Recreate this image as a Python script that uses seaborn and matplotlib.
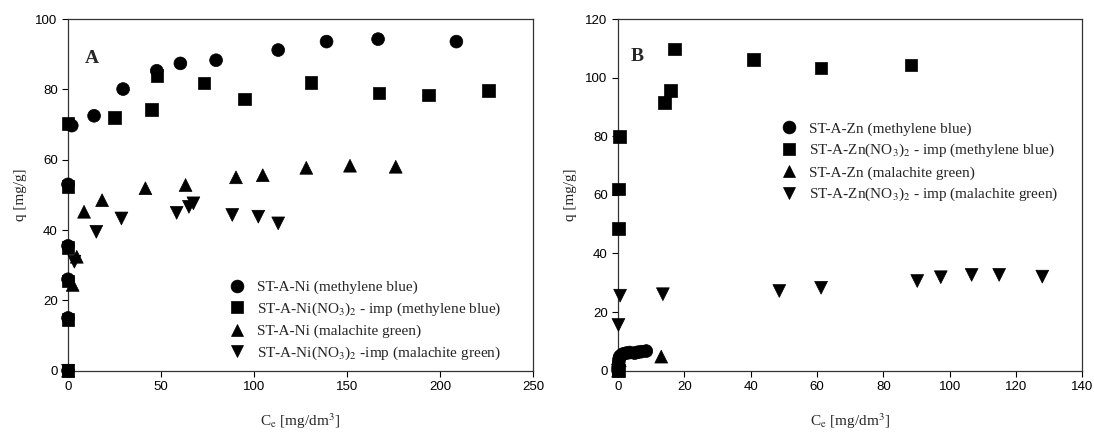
import matplotlib
matplotlib.use("Agg")
import matplotlib.pyplot as plt
import seaborn as sns
import pandas as pd

sns.set_theme(style="ticks")
plt.rcParams['font.family'] = ['Liberation Sans', 'DejaVu Sans']
plt.rcParams['mathtext.fontset'] = 'stix'

# ---------------- Panel A data ----------------
a_labels = ["ST-A-Ni (methylene blue)",
            "ST-A-Ni(NO$_3$)$_2$ - imp (methylene blue)",
            "ST-A-Ni (malachite green)",
            "ST-A-Ni(NO$_3$)$_2$ -imp (malachite green)"]
a_mb_x = [0, 0, 0, 0, 0, 2, 14, 29.6, 47.7, 60.4, 79.6, 113, 139, 166.7, 208.8]
a_mb_q = [0, 15, 26, 35.5, 53, 69.7, 72.5, 80.1, 85.3, 87.4, 88.3, 91.2, 93.6, 94.3, 93.6]
a_mbimp_x = [0, 0, 0, 0, 0, 0, 25, 44.8, 47.8, 73.1, 95, 130.6, 167.2, 193.9, 226]
a_mbimp_q = [0, 14.5, 25.5, 35, 52.5, 70.4, 72, 74.4, 84, 81.8, 77.3, 81.9, 79, 78.4, 79.8]
a_mg_x = [0, 2.5, 4.7, 8.6, 18.3, 41.6, 63.2, 90.3, 104.7, 128.1, 151.6, 176.2]
a_mg_q = [0, 24.4, 32.4, 45.2, 48.5, 51.9, 52.8, 55, 55.6, 57.7, 58.3, 58]
a_mgimp_x = [0, 3.4, 15.2, 28.7, 58.4, 65, 67.4, 88.3, 102.3, 113]
a_mgimp_q = [0, 31, 39.5, 43.3, 44.9, 46.6, 47.6, 44.3, 43.8, 41.9]

# ---------------- Panel B data ----------------
b_labels = ["ST-A-Zn (methylene blue)",
            "ST-A-Zn(NO$_3$)$_2$ - imp (methylene blue)",
            "ST-A-Zn (malachite green)",
            "ST-A-Zn(NO$_3$)$_2$ - imp (malachite green)"]
b_mb_x = [0, 0, 0.1, 0.2, 0.3, 0.5, 1, 1.5, 2.5, 3.5, 5, 6, 7, 8.5]
b_mb_q = [0, 1, 2, 3, 4, 4.8, 5.3, 5.7, 6, 6.2, 6, 6.3, 6.5, 6.7]
b_mbimp_x = [0, 0, 0.1, 0.4, 14, 15.8, 17, 40.9, 61.2, 88.3]
b_mbimp_q = [0, 48.5, 62, 80, 91.6, 95.5, 109.8, 106.3, 103.3, 104.3]
b_mg_x = [0, 0.2, 0.5, 13]
b_mg_q = [0, 2, 3.5, 4.8]
b_mgimp_x = [0, 0.1, 0.6, 13.5, 48.6, 61.2, 90.2, 97.3, 106.6, 114.9, 127.9]
b_mgimp_q = [0, 15.6, 25.6, 26.1, 27.2, 28.3, 30.6, 31.9, 32.7, 32.7, 32.1]

marker_list = ["o", "s", "^", "v"]


def make_df(labels, xs, qs):
    rows = []
    for lab, x, q in zip(labels, xs, qs):
        for xi, qi in zip(x, q):
            rows.append({"series": lab, "Ce": xi, "q": qi})
    return pd.DataFrame(rows)


dfA = make_df(a_labels, [a_mb_x, a_mbimp_x, a_mg_x, a_mgimp_x],
              [a_mb_q, a_mbimp_q, a_mg_q, a_mgimp_q])
dfB = make_df(b_labels, [b_mb_x, b_mbimp_x, b_mg_x, b_mgimp_x],
              [b_mb_q, b_mbimp_q, b_mg_q, b_mgimp_q])

fig = plt.figure(figsize=(10.94, 4.33), dpi=100)
axA = fig.add_axes([0.0622, 0.1439, 0.425, 0.812])
axB = fig.add_axes([0.565, 0.1439, 0.4244, 0.812])

serif = ['Liberation Serif', 'DejaVu Serif']


def draw(ax, df, labels, xlim, xticks, ylim, yticks, letter, letter_pos, leg_anchor):
    sns.scatterplot(data=df, x="Ce", y="q", style="series", style_order=labels,
                    markers=dict(zip(labels, marker_list)), color="black",
                    edgecolor="black", linewidth=0.5, s=85, ax=ax, clip_on=False,
                    zorder=3)
    ax.set_xlim(*xlim)
    ax.set_ylim(*ylim)
    ax.set_xticks(xticks)
    ax.set_yticks(yticks)
    ax.tick_params(direction="out", length=4, width=0.8, labelsize=9.5,
                   colors="black", top=False, right=False)
    for sp in ax.spines.values():
        sp.set_visible(True)
        sp.set_color("#333333")
        sp.set_linewidth(0.9)
    ax.set_xlabel("C$_\\mathrm{e}$ [mg/dm$^3$]", family=serif, fontsize=11, labelpad=13)
    ax.set_ylabel("q [mg/g]", family=serif, fontsize=11, labelpad=6)
    ax.text(letter_pos[0], letter_pos[1], letter, transform=ax.transAxes,
            family=serif, fontsize=14, fontweight="bold", ha="center", va="center")
    handles, labs = ax.get_legend_handles_labels()
    ax.legend(handles, labs, loc="upper left", bbox_to_anchor=leg_anchor,
              frameon=False, prop={"family": serif, "size": 11},
              handletextpad=0.3, labelspacing=0.42, borderpad=0, borderaxespad=0,
              markerscale=1.0)
    ax.grid(False)


draw(axA, dfA, a_labels, (0, 250), [0, 50, 100, 150, 200, 250], (0, 100),
     [0, 20, 40, 60, 80, 100], "A", (0.052, 0.889), (0.331, 0.257))
draw(axB, dfB, b_labels, (0, 140), [0, 20, 40, 60, 80, 100, 120, 140], (0, 120),
     [0, 20, 40, 60, 80, 100, 120], "B", (0.040, 0.893), (0.336, 0.708))

fig.savefig("out.png", dpi=100)
